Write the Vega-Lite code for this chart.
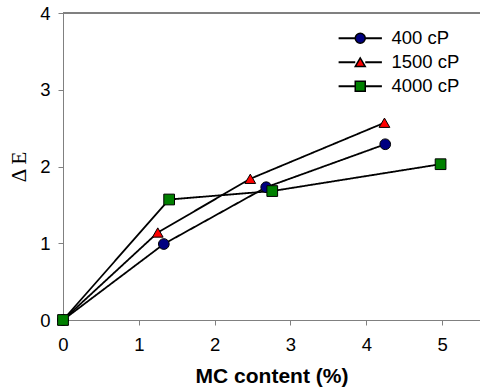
{
  "$schema": "https://vega.github.io/schema/vega-lite/v6.json",
  "width": 417,
  "height": 307,
  "autosize": {"type": "none"},
  "padding": {"left": 63, "top": 13, "right": 0, "bottom": 72},
  "background": "white",
  "config": {
    "view": {"stroke": null},
    "font": "Liberation Sans",
    "axis": {
      "grid": false,
      "domainColor": "#808080",
      "domainWidth": 1,
      "tickColor": "#808080",
      "tickSize": 5,
      "labelColor": "black",
      "labelFont": "Liberation Sans",
      "labelFontSize": 18.5,
      "labelFlush": false,
      "titleColor": "black"
    }
  },
  "data": {
    "values": [
      {"series": "400 cP", "mc": 0, "de": 0},
      {"series": "400 cP", "mc": 1.33, "de": 0.99},
      {"series": "400 cP", "mc": 2.68, "de": 1.73},
      {"series": "400 cP", "mc": 4.25, "de": 2.29},
      {"series": "1500 cP", "mc": 0, "de": 0},
      {"series": "1500 cP", "mc": 1.25, "de": 1.14},
      {"series": "1500 cP", "mc": 2.47, "de": 1.84},
      {"series": "1500 cP", "mc": 4.24, "de": 2.57},
      {"series": "4000 cP", "mc": 0, "de": 0},
      {"series": "4000 cP", "mc": 1.40, "de": 1.57},
      {"series": "4000 cP", "mc": 2.76, "de": 1.68},
      {"series": "4000 cP", "mc": 4.98, "de": 2.03}
    ]
  },
  "layer": [
    {
      "mark": {"type": "rule", "color": "#808080", "strokeWidth": 1},
      "encoding": {"y": {"datum": 4, "type": "quantitative", "scale": {"domain": [0, 4]}}}
    },
    {
      "mark": {"type": "line", "color": "black", "strokeWidth": 1.8},
      "encoding": {
        "x": {"field": "mc", "type": "quantitative"},
        "y": {"field": "de", "type": "quantitative"},
        "strokeDash": {
          "field": "series", "type": "nominal",
          "sort": ["400 cP", "1500 cP", "4000 cP"],
          "scale": {"range": [[1, 0], [1, 0], [1, 0]]},
          "legend": {
            "title": null,
            "orient": "none",
            "legendX": 288,
            "legendY": 16,
            "padding": 0,
            "symbolType": "M-4.33,0H-1M1,0H4.33",
            "symbolSize": 100,
            "symbolStrokeColor": "black",
            "symbolStrokeWidth": 1.8,
            "labelFont": "Liberation Sans",
            "labelFontSize": 18.5,
            "labelColor": "transparent",
            "labelOffset": 22,
            "rowPadding": 5
          }
        }
      }
    },
    {
      "mark": {"type": "point", "filled": true, "stroke": "black", "strokeWidth": 1, "opacity": 1, "size": 115},
      "encoding": {
        "x": {
          "field": "mc", "type": "quantitative",
          "scale": {"domain": [0, 5.5], "nice": false, "zero": false},
          "axis": {
            "values": [0, 1, 2, 3, 4, 5],
            "format": "d",
            "title": "MC content (%)",
            "titleFont": "Liberation Sans",
            "titleFontSize": 21,
            "titleFontWeight": "bold",
            "labelPadding": 10,
            "titlePadding": 12
          }
        },
        "y": {
          "field": "de", "type": "quantitative",
          "scale": {"domain": [0, 4], "nice": false},
          "axis": {
            "values": [0, 1, 2, 3, 4],
            "format": "d",
            "title": "Δ E",
            "titleFont": "Liberation Serif",
            "titleFontSize": 21,
            "titleFontWeight": "normal",
            "labelPadding": 8,
            "titlePadding": 10
          }
        },
        "shape": {
          "field": "series", "type": "nominal",
          "scale": {"domain": ["400 cP", "1500 cP", "4000 cP"], "range": ["circle", "triangle-up", "square"]},
          "legend": {
            "title": null,
            "orient": "none",
            "legendX": 288,
            "legendY": 16,
            "padding": 0,
            "symbolSize": 100,
            "labelFont": "Liberation Sans",
            "labelFontSize": 18.5,
            "labelColor": "black",
            "labelOffset": 22,
            "rowPadding": 5,
            "encode": {
              "symbols": {
                "stroke": {"value": "black"},
                "strokeWidth": {"value": 1}
              }
            }
          }
        },
        "fill": {
          "field": "series", "type": "nominal",
          "scale": {"domain": ["400 cP", "1500 cP", "4000 cP"], "range": ["#000080", "#ff0000", "#008000"]}
        }
      }
    }
  ]
}
